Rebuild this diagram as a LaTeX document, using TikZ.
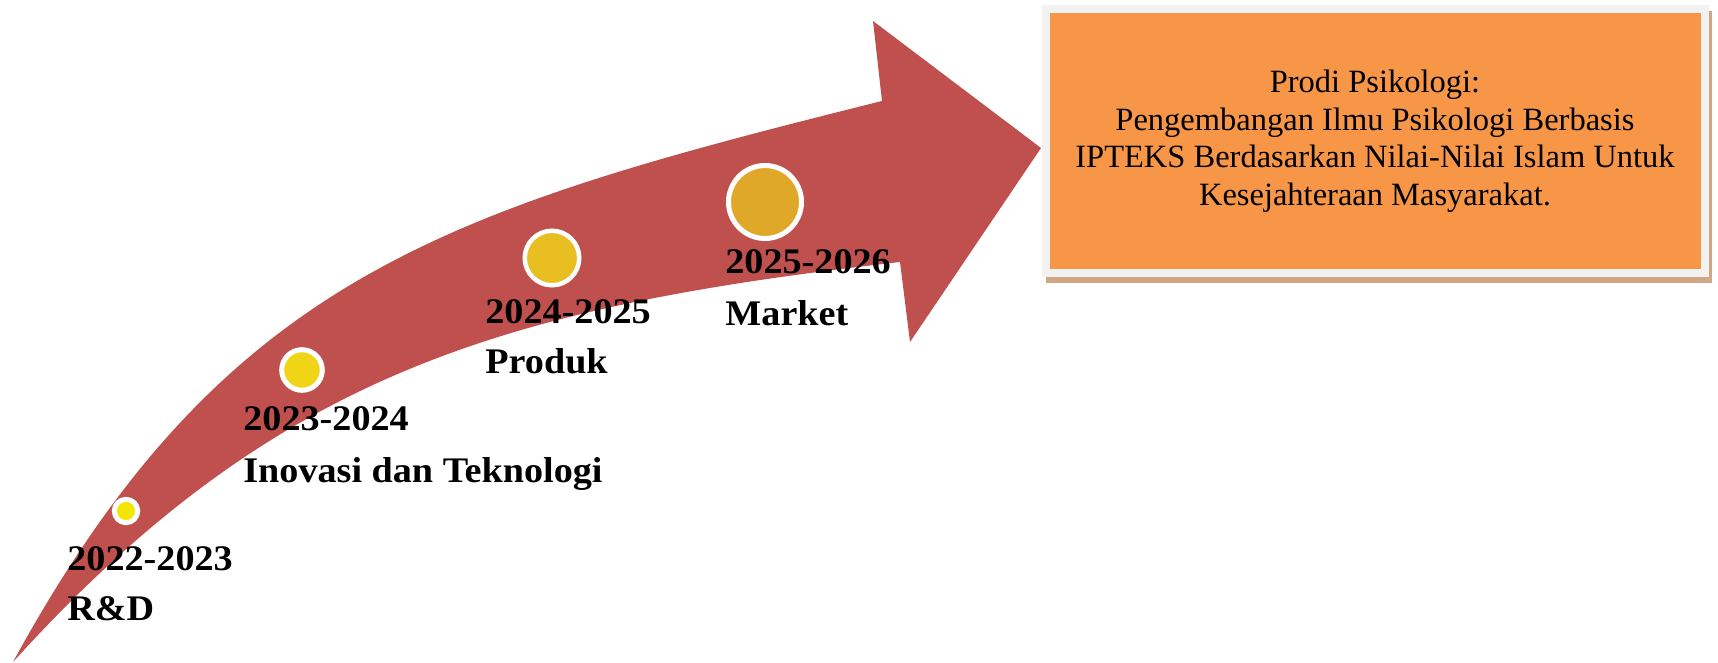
\documentclass[tikz,border=0pt]{standalone}
\usepackage{fontspec}
\setmainfont{Liberation Serif}
\newfontfamily\labelfont[FakeStretch=1.06]{Liberation Serif}
\definecolor{arrowred}{HTML}{C0504D}
\definecolor{boxorange}{HTML}{F79646}
\definecolor{boxborder}{HTML}{F2F2F2}
\definecolor{shadowtan}{HTML}{D1A683}
\definecolor{dotA}{HTML}{F5E600}
\definecolor{dotB}{HTML}{F0D516}
\definecolor{dotC}{HTML}{E8BE20}
\definecolor{dotD}{HTML}{DFA829}
\begin{document}
\begin{tikzpicture}[x=0.5pt,y=-0.5pt,
  arrowbody/.style={fill=arrowred},
  dot/.style={circle, draw=white, inner sep=0pt, line width=2.5pt},
  yearlabel/.style={anchor=base west, inner sep=0pt, font=\labelfont\bfseries\fontsize{18}{18}\selectfont},
  goalbox/.style={rectangle, fill=boxorange, draw=boxborder, line width=4pt, inner sep=0pt,
    minimum width=329.5pt, minimum height=132pt, align=center,
    font=\fontsize{16.25}{18.75}\selectfont},
  boxshadow/.style={fill=shadowtan}]
\useasboundingbox (0,0) rectangle (1718,663);
% arrow
\fill[arrowbody] (13,662) .. controls (224,276) and (445,210) .. (882,101)
  -- (873,21) -- (1041,148) -- (910,342) -- (900,262)
  .. controls (503,307) and (275,373) .. (13,662) -- cycle;
% dots
\node[dot, fill=dotA, minimum size=11.7pt] (d1) at (126,511) {};
\node[dot, fill=dotB, minimum size=20.3pt] (d2) at (302,370) {};
\node[dot, fill=dotC, minimum size=27.25pt, line width=2.25pt] (d3) at (552,258) {};
\node[dot, fill=dotD, minimum size=36.5pt] (d4) at (765,202) {};
% labels
\node[yearlabel] (y1) at (67,570) {2022-2023};
\node[yearlabel] (n1) at (67,620) {R\&D};
\node[yearlabel] (y2) at (243,430) {2023-2024};
\node[yearlabel] (n2) at (243,482) {Inovasi dan Teknologi};
\node[yearlabel] (y3) at (485,323) {2024-2025};
\node[yearlabel] (n3) at (485,373) {Produk};
\node[yearlabel] (y4) at (725,273) {2025-2026};
\node[yearlabel] (n4) at (725,325) {Market};
% goal box
\fill[boxshadow] (1046,11) rectangle (1712,283);
\node[goalbox] (goal) at (1375,141) {Prodi Psikologi:\\Pengembangan Ilmu Psikologi Berbasis\\IPTEKS Berdasarkan Nilai-Nilai Islam Untuk\\Kesejahteraan Masyarakat.};
\end{tikzpicture}
\end{document}
